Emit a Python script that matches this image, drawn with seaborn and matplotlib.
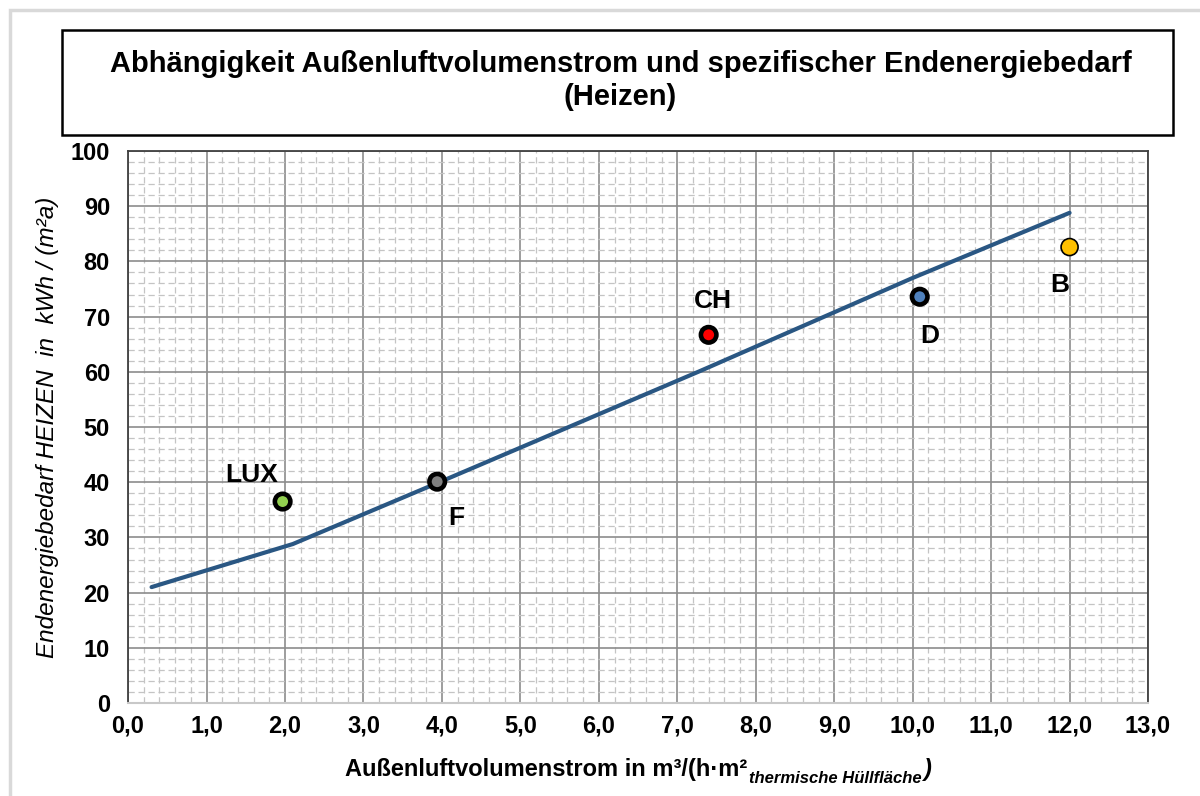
import numpy as np
import pandas as pd
import seaborn as sns
import matplotlib.pyplot as plt
from matplotlib.patches import Rectangle
from matplotlib.ticker import MultipleLocator, FuncFormatter

# trend line (Außenluftvolumenstrom vs. Endenergiebedarf)
line_x = [0.3, 2.1, 4.0, 7.3, 10.0, 12.0]
line_y = [21.0, 28.8, 40.2, 60.2, 77.0, 88.8]

# country points
countries = ["LUX", "F", "CH", "D", "B"]
pt_x = [1.97, 3.94, 7.40, 10.09, 12.0]
pt_y = [36.5, 40.1, 66.7, 73.6, 82.6]
pt_colors = ["#92D050", "#808080", "#FF0000", "#4F81BD", "#FFC000"]

sns.set_style("white")
plt.rcParams["font.family"] = ["Liberation Sans", "DejaVu Sans"]
plt.rcParams.update({"text.color": "black", "axes.labelcolor": "black",
                     "xtick.color": "black", "ytick.color": "black"})

fig = plt.figure(figsize=(12, 7.96), dpi=100)
ax = fig.add_axes([0.1067, 0.1168, 0.85, 0.6935])

line_df = pd.DataFrame({"x": line_x, "y": line_y})
sns.lineplot(data=line_df, x="x", y="y", ax=ax, color="#2A5783", linewidth=3.0,
             zorder=3)

pts = pd.DataFrame({"x": pt_x, "y": pt_y, "land": countries})
sns.scatterplot(data=pts, x="x", y="y", hue="land",
                palette=dict(zip(countries, pt_colors)), legend=False,
                s=[125, 125, 125, 125, 150], edgecolor="black",
                linewidth=[3.3, 3.3, 3.3, 3.3, 1.2], ax=ax, zorder=4)

# label offsets in points
offs = {"LUX": (-22, 19), "F": (14, -26), "CH": (3, 24), "D": (7, -28), "B": (-7, -27)}
for c, x, y in zip(countries, pt_x, pt_y):
    ax.annotate(c, (x, y), xytext=offs[c], textcoords="offset points",
                ha="center", va="center", fontsize=19, fontweight="bold", zorder=5)

ax.set_xlim(0, 13)
ax.set_ylim(0, 100)
ax.xaxis.set_major_locator(MultipleLocator(1))
ax.xaxis.set_minor_locator(MultipleLocator(0.2))
ax.yaxis.set_major_locator(MultipleLocator(10))
ax.yaxis.set_minor_locator(MultipleLocator(2))
ax.xaxis.set_major_formatter(FuncFormatter(lambda v, p: f"{v:.1f}".replace(".", ",")))
ax.grid(which="major", color="#8c8c8c", linewidth=1.2, linestyle="-")
ax.grid(which="minor", color="#c4c4c4", linewidth=0.9, linestyle=(0, (5, 3)))
ax.set_axisbelow(True)
ax.tick_params(which="both", length=0)
ax.tick_params(axis="y", pad=13, labelsize=17)
ax.tick_params(axis="x", pad=8, labelsize=17)
for lab in ax.get_xticklabels() + ax.get_yticklabels():
    lab.set_fontweight("bold")
for s in ["top", "right", "left"]:
    ax.spines[s].set_color("#404040")
    ax.spines[s].set_linewidth(1.3)
ax.spines["bottom"].set_color("#c8c8c8")
ax.spines["bottom"].set_linewidth(1.5)

ax.set_xlabel("")
ax.set_ylabel("Endenergiebedarf HEIZEN  in  kWh / (m²a)", fontsize=17.5,
              fontstyle="italic", labelpad=8)

# x axis label, built from pieces
t1 = fig.text(0.2875, 0.0245, "Außenluftvolumenstrom in m³/(h·m²", fontsize=17,
              fontweight="bold", ha="left", va="baseline")
t2 = ax.annotate("thermische Hüllfläche", xy=(1, 0), xycoords=t1, xytext=(1, -3),
                 textcoords="offset points", fontsize=12, fontweight="bold",
                 fontstyle="italic", ha="left", va="bottom", annotation_clip=False)
ax.annotate(")", xy=(1, 0), xycoords=t2, xytext=(1, 3), textcoords="offset points",
            fontsize=17, fontstyle="italic", fontweight="bold", ha="left",
            va="bottom", annotation_clip=False)

# title box
fig.patches.append(Rectangle((0.0517, 0.8304), 0.926, 0.1319, transform=fig.transFigure,
                             facecolor="white", edgecolor="black", linewidth=1.8))
fig.text(0.517, 0.92, "Abhängigkeit Außenluftvolumenstrom und spezifischer Endenergiebedarf",
         ha="center", va="center", fontsize=21, fontweight="bold")
fig.text(0.517, 0.878, "(Heizen)", ha="center", va="center", fontsize=21,
         fontweight="bold")

# outer frame
fig.patches.append(Rectangle((0.0085, -0.05), 1.2, 1.0375, transform=fig.transFigure,
                             facecolor="none", edgecolor="#d9d9d9", linewidth=2.5))

fig.savefig("out.png", dpi=100)
